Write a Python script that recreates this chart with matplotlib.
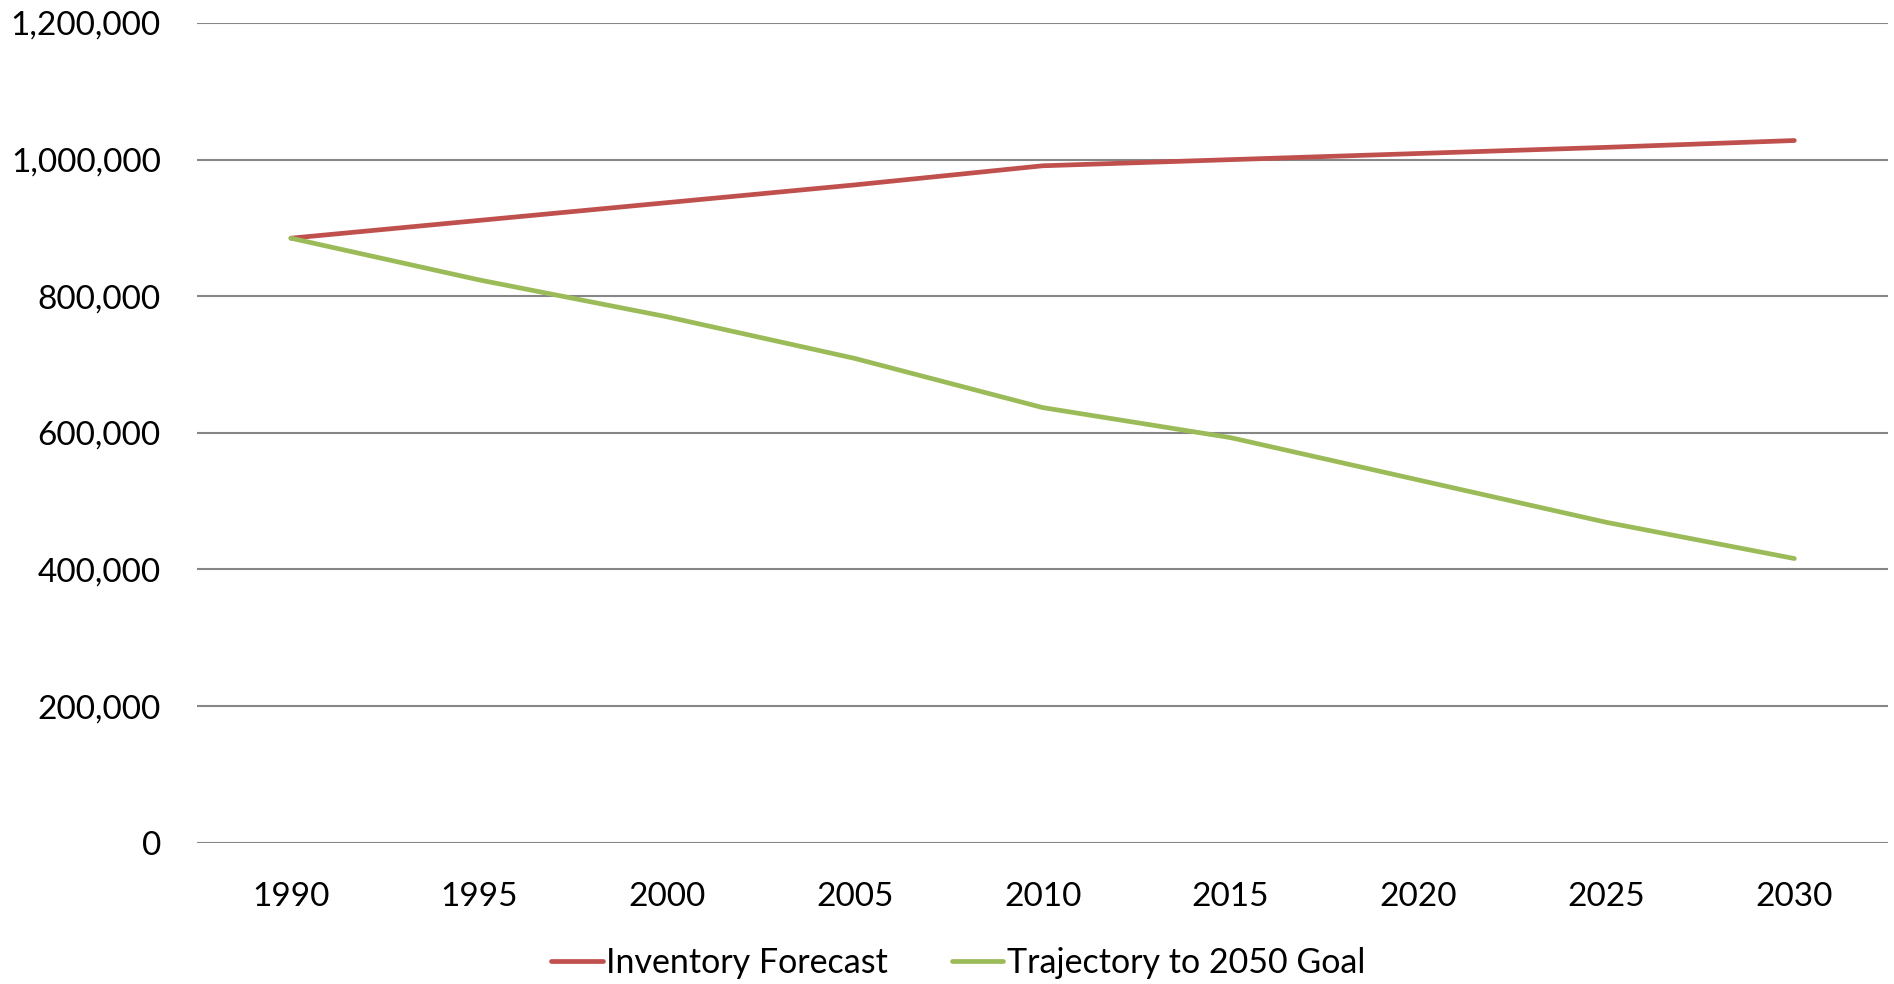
import matplotlib
matplotlib.use("Agg")
import matplotlib.pyplot as plt
from matplotlib.ticker import FuncFormatter

years = ["1990", "1995", "2000", "2005", "2010", "2015", "2020", "2025", "2030"]
inventory_forecast = [885000, 911000, 937000, 963000, 991000, 1000000, 1009000, 1018000, 1028000]
trajectory_2050 = [885000, 824000, 770000, 709000, 637000, 593000, 531000, 469000, 416000]
y_ticks = [0, 200000, 400000, 600000, 800000, 1000000, 1200000]

plt.rcParams["font.family"] = ["Lato", "DejaVu Sans"]

fig = plt.figure(figsize=(18.94, 9.84), dpi=100)
ax = fig.add_axes([0.104, 0.1436, 0.893, 0.833])

x = list(range(len(years)))
ax.plot(x, inventory_forecast, color="#C0504D", lw=3.4, solid_capstyle="round",
        label="Inventory Forecast", zorder=3)
ax.plot(x, trajectory_2050, color="#9BBB59", lw=3.4, solid_capstyle="round",
        label="Trajectory to 2050 Goal", zorder=3)

ax.set_xlim(-0.5, len(years) - 0.5)
ax.set_ylim(0, 1200000)
ax.set_xticks(x)
ax.set_xticklabels(years)
ax.set_yticks(y_ticks)
ax.yaxis.set_major_formatter(FuncFormatter(lambda v, p: f"{int(v):,}"))
ax.grid(axis="y", color="#868686", lw=1.5)
ax.set_axisbelow(True)
for s in ax.spines.values():
    s.set_visible(False)
ax.tick_params(axis="both", length=0, labelsize=24)
ax.tick_params(axis="y", pad=26)
ax.tick_params(axis="x", pad=28)

fig.legend(loc="center", bbox_to_anchor=(0.506, 0.021), ncol=2, frameon=False,
           fontsize=24.5, handlelength=1.5, handletextpad=0.1, columnspacing=1.9)

fig.savefig("out.png", dpi=100, facecolor="white")
